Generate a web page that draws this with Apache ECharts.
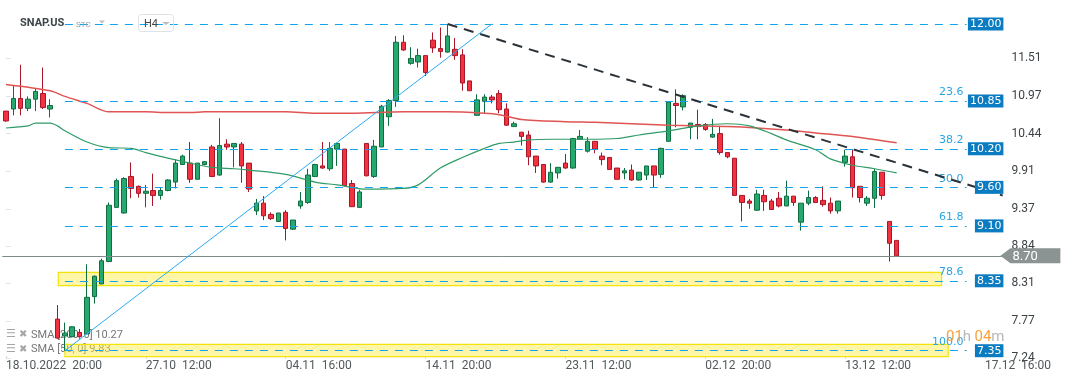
<!DOCTYPE html>
<html><head><meta charset="utf-8">
<script src="https://cdn.jsdelivr.net/npm/echarts@6/dist/echarts.min.js"></script>
<style>html,body{margin:0;padding:0;background:#fff}#c{width:1072px;height:382px}</style>
</head><body><div id="c"></div>
<script>
// [open, close, low, high]
const candles = [
[10.76,10.62,10.61,10.76],[10.79,10.94,10.70,11.12],[10.94,10.80,10.70,11.42],[10.80,10.93,10.76,10.97],
[10.93,11.04,10.76,11.08],[11.01,10.81,10.79,11.38],[10.79,10.84,10.67,10.93],[7.80,7.53,7.52,8.00],
[7.56,7.60,7.35,7.75],[7.55,7.69,7.54,7.70],[7.61,7.55,7.54,7.66],[7.59,8.11,7.58,8.58],
[8.12,8.41,8.02,8.42],[8.30,8.63,8.30,8.66],[8.62,9.42,8.61,9.46],[9.39,9.77,9.39,9.80],
[9.31,9.80,9.30,9.82],[9.83,9.66,9.52,10.03],[9.69,9.59,9.53,9.70],[9.59,9.62,9.39,9.71],
[9.63,9.56,9.41,9.87],[9.56,9.63,9.50,9.68],[9.63,9.78,9.62,9.79],[9.75,10.02,9.66,10.07],
[10.00,10.12,10.00,10.14],[10.02,9.79,9.74,10.32],[9.79,10.02,9.79,10.02],[10.00,10.04,9.99,10.05],
[10.25,9.83,9.82,10.28],[9.85,10.27,9.84,10.66],[10.29,10.25,10.21,10.36],[10.25,10.30,9.96,10.30],
[10.29,9.98,9.74,10.32],[10.02,9.65,9.61,10.02],[9.34,9.45,9.28,9.51],[9.45,9.27,9.21,9.55],
[9.29,9.23,9.21,9.32],[9.19,9.31,9.18,9.31],[9.32,9.09,8.92,9.35],[9.08,9.21,9.07,9.21],
[9.41,9.48,9.37,9.61],[9.46,9.85,9.44,9.94],[9.83,10.00,9.82,10.01],[9.98,9.95,9.94,10.32],
[9.94,10.23,9.91,10.32],[10.22,10.30,9.98,10.31],[10.22,9.70,9.69,10.22],[9.73,9.40,9.40,9.78],
[9.39,9.61,9.38,9.64],[10.30,9.84,9.83,10.30],[9.83,10.26,9.81,10.35],[10.25,10.83,10.25,10.85],
[10.68,10.91,10.55,10.93],[10.91,11.74,10.82,11.83],[11.74,11.63,11.62,11.84],[11.44,11.51,11.42,11.67],
[11.46,11.55,11.38,11.65],[11.55,11.31,11.26,11.55],[11.77,11.66,11.59,11.88],[11.65,11.61,11.52,11.95],
[11.60,11.83,11.59,12.00],[11.64,11.55,11.49,11.80],[11.56,11.16,11.05,11.64],[11.19,11.05,11.05,11.19],
[10.70,10.92,10.69,11.00],[10.90,10.96,10.73,11.00],[10.96,10.92,10.87,10.99],[11.01,10.78,10.73,11.06],
[10.79,10.56,10.55,10.87],[10.54,10.58,10.54,10.61],[10.46,10.40,10.27,10.46],[10.42,10.11,9.99,10.48],
[10.12,9.98,9.88,10.12],[10.00,9.75,9.74,10.00],[9.75,9.89,9.74,10.02],[9.88,9.96,9.80,9.96],
[10.02,9.95,9.94,10.15],[9.95,10.37,9.94,10.38],[10.36,10.40,10.36,10.49],[10.19,10.33,10.17,10.39],
[10.33,10.22,10.16,10.33],[10.12,10.07,9.99,10.17],[10.10,9.93,9.93,10.10],[9.95,9.79,9.79,9.95],
[9.88,9.91,9.79,9.95],[9.92,9.78,9.77,10.00],[9.78,9.89,9.77,9.89],[9.85,9.98,9.78,9.98],
[9.98,9.85,9.68,9.98],[9.86,10.23,9.81,10.24],[10.33,10.89,10.33,10.89],[10.87,10.84,10.53,11.07],
[10.82,10.98,10.77,11.00],[10.53,10.59,10.36,10.59],[10.57,10.54,10.36,10.78],[10.57,10.50,10.48,10.59],
[10.39,10.43,10.38,10.65],[10.44,10.17,10.14,10.55],[10.17,10.11,10.09,10.17],[10.09,9.56,9.56,10.09],
[9.56,9.46,9.19,9.56],[9.48,9.45,9.37,9.51],[9.35,9.58,9.34,9.64],[9.56,9.47,9.34,9.64],
[9.48,9.36,9.36,9.51],[9.52,9.41,9.39,9.61],[9.41,9.55,9.41,9.77],[9.55,9.46,9.41,9.55],
[9.18,9.45,9.06,9.45],[9.45,9.53,9.42,9.63],[9.53,9.46,9.46,9.55],[9.49,9.43,9.40,9.69],
[9.45,9.34,9.30,9.53],[9.34,9.48,9.30,9.48],[10.03,10.12,9.97,10.21],[10.11,9.67,9.53,10.21],
[9.69,9.53,9.46,9.69],[9.45,9.52,9.41,9.55],[9.52,9.90,9.38,9.94],[9.89,9.56,9.50,9.89],
[9.19,8.88,8.62,9.19],[8.92,8.70,8.69,8.92]
];
// [candle index, value]
const sma200 = [[0,11.14],[6,11.05],[8,10.97],[11,10.87],[14,10.75],[19,10.75],[22,10.74],[25,10.74],[27,10.75],[33,10.75],[38,10.75],[42,10.73],[47,10.73],[54,10.75],[60,10.75],[65,10.73],[67,10.71],[70,10.64],[76,10.61],[80,10.60],[85,10.58],[90,10.56],[94,10.55],[98,10.54],[102,10.52],[106,10.49],[110,10.45],[115,10.40],[121,10.31]];
const sma50 = [[0,10.52],[3,10.55],[4,10.59],[6,10.59],[7,10.55],[8,10.48],[11,10.32],[14,10.24],[17,10.23],[19,10.17],[22,10.09],[25,10.02],[28,9.96],[31,9.94],[33,9.92],[38,9.86],[42,9.75],[45,9.71],[49,9.65],[54,9.66],[56,9.71],[59,9.95],[62,10.10],[65,10.23],[67,10.30],[69,10.32],[71,10.35],[74,10.36],[79,10.36],[83,10.37],[86,10.42],[90,10.48],[94,10.55],[98,10.58],[101,10.55],[104,10.44],[106,10.35],[110,10.21],[112,10.08],[115,9.99],[118,9.94],[121,9.88]];
const yTicks = [7.24, 7.77, 8.31, 8.84, 9.37, 9.91, 10.44, 10.97, 11.51];
const xTickLabels = ['18.10.2022  20:00','27.10  12:00','04.11  16:00','14.11  20:00','23.11  12:00','02.12  20:00','13.12  12:00','17.12  16:00'];
const xLabelStep = 19;
const futureSlots = 14;
const fibHigh = 12.00, fibLow = 7.35;
const fibRatios = [0, 23.6, 38.2, 50.0, 61.8, 78.6, 100.0];
const fibBoxTexts = ['12.00','10.85','10.20','9.60','9.10','8.35','7.35'];
const fibStartIdx = 8, fibEndIdx = 130.5;
const zones = [[7.1, 8.466, 127.1, 8.275], [8.0, 7.441, 128.0, 7.265]];
const upTrend = [[8, 7.35], [66, 12.00]];
const downTrend = [[60, 12.00], [135.4, 9.56]];
const lastPrice = 8.70;
const smaLegend = ['SMA [200, 0] 10.27', 'SMA [50, 0] 9.83'];
const symbolName = 'SNAP.US', timeframe = 'H4', countdown = ['01','04'];

const nSlots = candles.length + futureSlots;
const categories = Array.from({length: nSlots}, (_, i) => 'slot' + i);
const fibLevels = fibRatios.map(r => fibHigh - r / 100 * (fibHigh - fibLow));
const yMin = 7.232, yMax = 12.3416;
const showX = i => i % xLabelStep === 0 && i / xLabelStep < xTickLabels.length;

const chart = echarts.init(document.getElementById('c'), null, {renderer: 'canvas'});
const baseFont = 'Roboto';
const option = {
  animation: false,
  backgroundColor: '#fff',
  grid: {left: 2.32, right: 68.6, top: 0, bottom: 23},
  xAxis: [
    {type: 'category', data: categories, boundaryGap: true,
     axisLine: {show: false},
     axisTick: {show: true, inside: true, length: 3, interval: showX, alignWithLabel: true, lineStyle: {color: '#d6d6d6'}},
     axisLabel: {interval: showX, formatter: (v, i) => xTickLabels[i / xLabelStep] || '', align: 'left', margin: 1,
                 color: '#52595c', fontSize: 12, fontFamily: baseFont},
     splitLine: {show: false}},
    {type: 'value', min: -0.5, max: nSlots - 0.5, show: false}
  ],
  yAxis: [
    {type: 'value', min: yMin, max: yMax, position: 'right',
     axisLine: {show: false}, splitLine: {show: false},
     axisTick: {show: true, length: 5, customValues: yTicks, lineStyle: {color: '#e2e2e2'}},
     axisLabel: {customValues: yTicks, formatter: v => v.toFixed(2), margin: 8, color: '#3c4346', fontSize: 12,
                 fontFamily: baseFont, padding: [0, 0, 5, 0]}},
    {type: 'value', min: yMin, max: yMax, position: 'right', z: 10,
     axisLine: {show: false}, splitLine: {show: false}, axisTick: {show: false},
     axisLabel: {inside: true, margin: 0, customValues: fibLevels,
                 formatter: v => { let k = 0; fibLevels.forEach((l, j) => { if (Math.abs(l - v) < Math.abs(fibLevels[k] - v)) k = j; }); return fibBoxTexts[k]; },
                 color: '#fff', backgroundColor: '#0b7cc1', padding: [1, 2, 0, 2], lineHeight: 12,
                 fontSize: 11, fontFamily: 'DejaVu Sans'}}
  ],
  series: [
    {type: 'candlestick', name: 'SNAP.US', data: candles, barWidth: 5, z: 2,
     itemStyle: {color: '#27a86e', color0: '#f2323f', borderColor: '#0f6e40', borderColor0: '#a8162a', borderWidth: 1},
     markLine: {silent: true, symbol: ['none', 'none'], label: {show: false},
                lineStyle: {type: 'solid', color: '#7f8a8a', width: 1},
                data: [{yAxis: lastPrice}]}},
    {type: 'line', name: 'SMA200', xAxisIndex: 1, yAxisIndex: 0, data: sma200, smooth: 0.3, symbol: 'none', z: 3,
     lineStyle: {color: '#e05454', width: 1.5}},
    {type: 'line', name: 'SMA50', xAxisIndex: 1, yAxisIndex: 0, data: sma50, smooth: 0.3, symbol: 'none', z: 3,
     lineStyle: {color: '#2f9c68', width: 1.2}},
    {type: 'line', name: 'fib', xAxisIndex: 1, yAxisIndex: 0, data: [], z: 4,
     markLine: {silent: true, symbol: ['none', 'none'],
                lineStyle: {type: [8, 7], color: '#14a3ea', width: 1},
                label: {show: true, position: 'insideEndTop', formatter: '{b}', distance: 3, color: '#2aa5e4', fontSize: 11, fontFamily: 'DejaVu Sans'},
                data: fibLevels.map((l, j) => [{coord: [fibStartIdx, l], name: j === 0 ? '' : fibRatios[j].toFixed(1)}, {coord: [fibEndIdx, l]}])}},
    {type: 'line', name: 'up trend', xAxisIndex: 1, yAxisIndex: 0, data: upTrend, symbol: 'none', z: 5,
     lineStyle: {color: '#2aaaf2', width: 1}},
    {type: 'line', name: 'down trend', xAxisIndex: 1, yAxisIndex: 0, data: downTrend, symbol: 'none', z: 5,
     lineStyle: {color: '#2a3238', width: 2, type: [10, 7]}},
    {type: 'line', name: 'zones', xAxisIndex: 1, yAxisIndex: 0, data: [], z: 6,
     markArea: {silent: true, itemStyle: {color: 'rgba(255,238,60,0.45)', borderColor: '#f4e20a', borderWidth: 1.2},
                data: zones.map(z => [{coord: [z[0], z[1]]}, {coord: [z[2], z[3]]}])}}
  ],
  graphic: [
    {type: 'text', x: 20, y: 23.5, z: 100, style: {text: symbolName, font: 'bold 11px Roboto', fill: '#3b4448', verticalAlign: 'middle'}},
    {type: 'text', x: 76, y: 24.5, z: 100, style: {text: 'STC', font: '8px Roboto', fill: '#8ea4b4', verticalAlign: 'middle'}},
    {type: 'polygon', z: 100, shape: {points: [[99, 20.5], [105, 20.5], [102, 23.5]]}, style: {fill: '#bdbdbd'}},
    {type: 'rect', z: 100, shape: {x: 138.5, y: 14.5, width: 35, height: 17, r: 3}, style: {fill: 'none', stroke: '#dfe3e6', lineWidth: 1}},
    {type: 'text', x: 144, y: 24, z: 100, style: {text: timeframe, font: '11px Roboto', fill: '#444', verticalAlign: 'middle'}},
    {type: 'polygon', z: 100, shape: {points: [[162, 22], [170, 22], [166, 25]]}, style: {fill: '#bdbdbd'}},
    ...smaLegend.flatMap((t, k) => [
      {type: 'text', x: 6, y: 334.5 + k * 14.5, z: 1, style: {text: '☰', font: '11px DejaVu Sans', fill: '#a6a6a6', verticalAlign: 'middle'}},
      {type: 'text', x: 19, y: 334.5 + k * 14.5, z: 1, style: {text: '✖', font: '10px DejaVu Sans', fill: '#a6a6a6', verticalAlign: 'middle'}},
      {type: 'text', x: 31, y: 335 + k * 14.5, z: 1, style: {text: t, font: '11px Roboto', fill: '#777', verticalAlign: 'middle'}}
    ]),
    {type: 'text', x: 946, y: 337, z: 100, style: {text: '{o|' + countdown[0] + '}{g|h} {o|' + countdown[1] + '}{g|m}', verticalAlign: 'middle',
      rich: {o: {fill: '#f6a13a', fontSize: 15, fontFamily: 'Roboto'}, g: {fill: '#b8b8b8', fontSize: 15, fontFamily: 'Roboto'}}}}
  ]
};
chart.setOption(option);
const yp = chart.convertToPixel({yAxisIndex: 0}, lastPrice);
const xr = chart.convertToPixel({xAxisIndex: 1}, nSlots - 0.5);
chart.setOption({graphic: option.graphic.concat([
  {type: 'polygon', z: 101, shape: {points: [[xr - 3, yp], [xr + 7, yp - 7.5], [xr + 57, yp - 7.5], [xr + 57, yp + 7.5], [xr + 7, yp + 7.5]]}, style: {fill: '#8b9393'}},
  {type: 'text', x: xr + 9, y: yp + 0.5, z: 102, style: {text: lastPrice.toFixed(2), font: '13px Roboto', fill: '#fff', verticalAlign: 'middle'}}
])});
</script></body></html>
